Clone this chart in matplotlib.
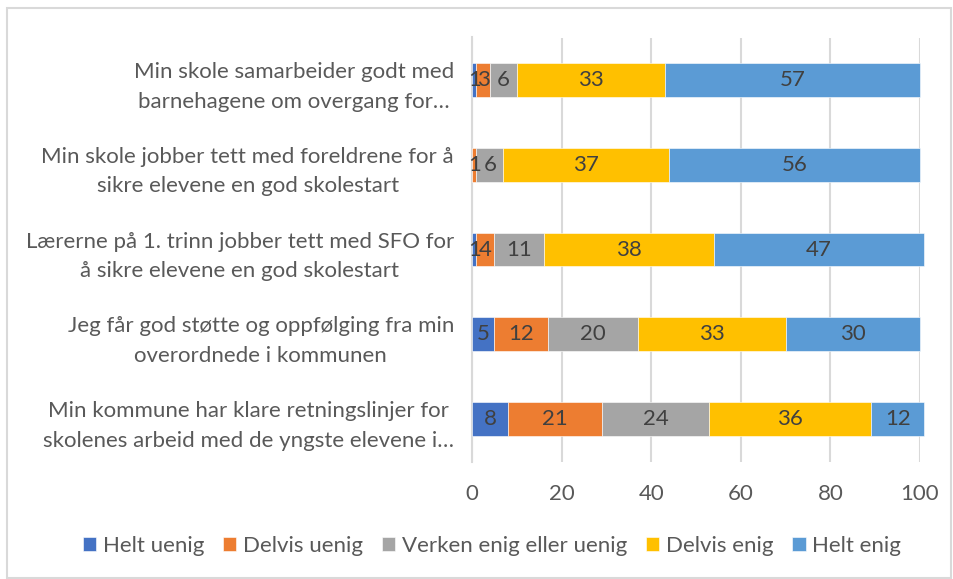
import matplotlib
matplotlib.use("Agg")
import matplotlib.pyplot as plt
from matplotlib.patches import Rectangle

plt.rcParams['font.family'] = ['Lato', 'DejaVu Sans']

categories = [
    "Min skole samarbeider godt med\nbarnehagene om overgang for…",
    "Min skole jobber tett med foreldrene for å\nsikre elevene en god skolestart",
    "Lærerne på 1. trinn jobber tett med SFO for\nå sikre elevene en god skolestart",
    "Jeg får god støtte og oppfølging fra min\noverordnede i kommunen",
    "Min kommune har klare retningslinjer for\nskolenes arbeid med de yngste elevene i…",
]
series_names = ["Helt uenig", "Delvis uenig", "Verken enig eller uenig", "Delvis enig", "Helt enig"]
helt_uenig = [1, 0, 1, 5, 8]
delvis_uenig = [3, 1, 4, 12, 21]
verken = [6, 6, 11, 20, 24]
delvis_enig = [33, 37, 38, 33, 36]
helt_enig = [57, 56, 47, 30, 12]
series = [helt_uenig, delvis_uenig, verken, delvis_enig, helt_enig]
colors = ["#4472C4", "#ED7D31", "#A5A5A5", "#FFC000", "#5B9BD5"]
xticks = [0, 20, 40, 60, 80, 100]

W, H = 954, 579
fig = plt.figure(figsize=(W / 100, H / 100), dpi=100)
fig.patches.append(Rectangle((7 / W, 1 / H), (W - 10) / W, (H - 9) / H, transform=fig.transFigure,
                             fill=False, edgecolor="#d9d9d9", linewidth=1.5))
ax = fig.add_axes([472 / W, 1 - 461.5 / H, (920 - 472) / W, (461.5 - 37.5) / H])

ypos = list(range(len(categories)))
left = [0] * len(categories)
text_color = "#404040"
for name, vals, col in zip(series_names, series, colors):
    ax.barh(ypos, vals, left=left, height=0.4, color=col, label=name,
            edgecolor="white", linewidth=0.4, clip_on=False, zorder=3)
    for y, v, l in zip(ypos, vals, left):
        if v > 0:
            ax.text(l + v / 2, y, str(v), ha="center", va="center", fontsize=16,
                    color=text_color, zorder=4)
    left = [a + b for a, b in zip(left, vals)]

ax.set_xlim(0, 100)
ax.set_ylim(4.5, -0.5)
ax.set_xticks(xticks)
ax.set_xticklabels([str(t) for t in xticks])
ax.set_yticks(ypos)
ax.set_yticklabels(categories, linespacing=1.6)
for lab in ax.get_yticklabels():
    lab.set_multialignment("center")
ax.tick_params(axis="both", length=0, labelsize=16, labelcolor="#595959")
ax.tick_params(axis="y", pad=13)
ax.tick_params(axis="x", pad=16)
ax.grid(axis="x", color="#d9d9d9", linewidth=1.5, zorder=0)
ax.set_axisbelow(True)
for s in ["top", "right", "bottom"]:
    ax.spines[s].set_visible(False)
ax.spines["left"].set_color("#d9d9d9")
ax.spines["left"].set_linewidth(1.5)

fig.legend(loc="center", bbox_to_anchor=(492 / W, 1 - 546 / H), ncol=5, frameon=False,
           fontsize=16, labelcolor="#595959", handlelength=0.6, handleheight=0.6,
           handletextpad=0.3, columnspacing=0.85)

fig.savefig("out.png", dpi=100)
